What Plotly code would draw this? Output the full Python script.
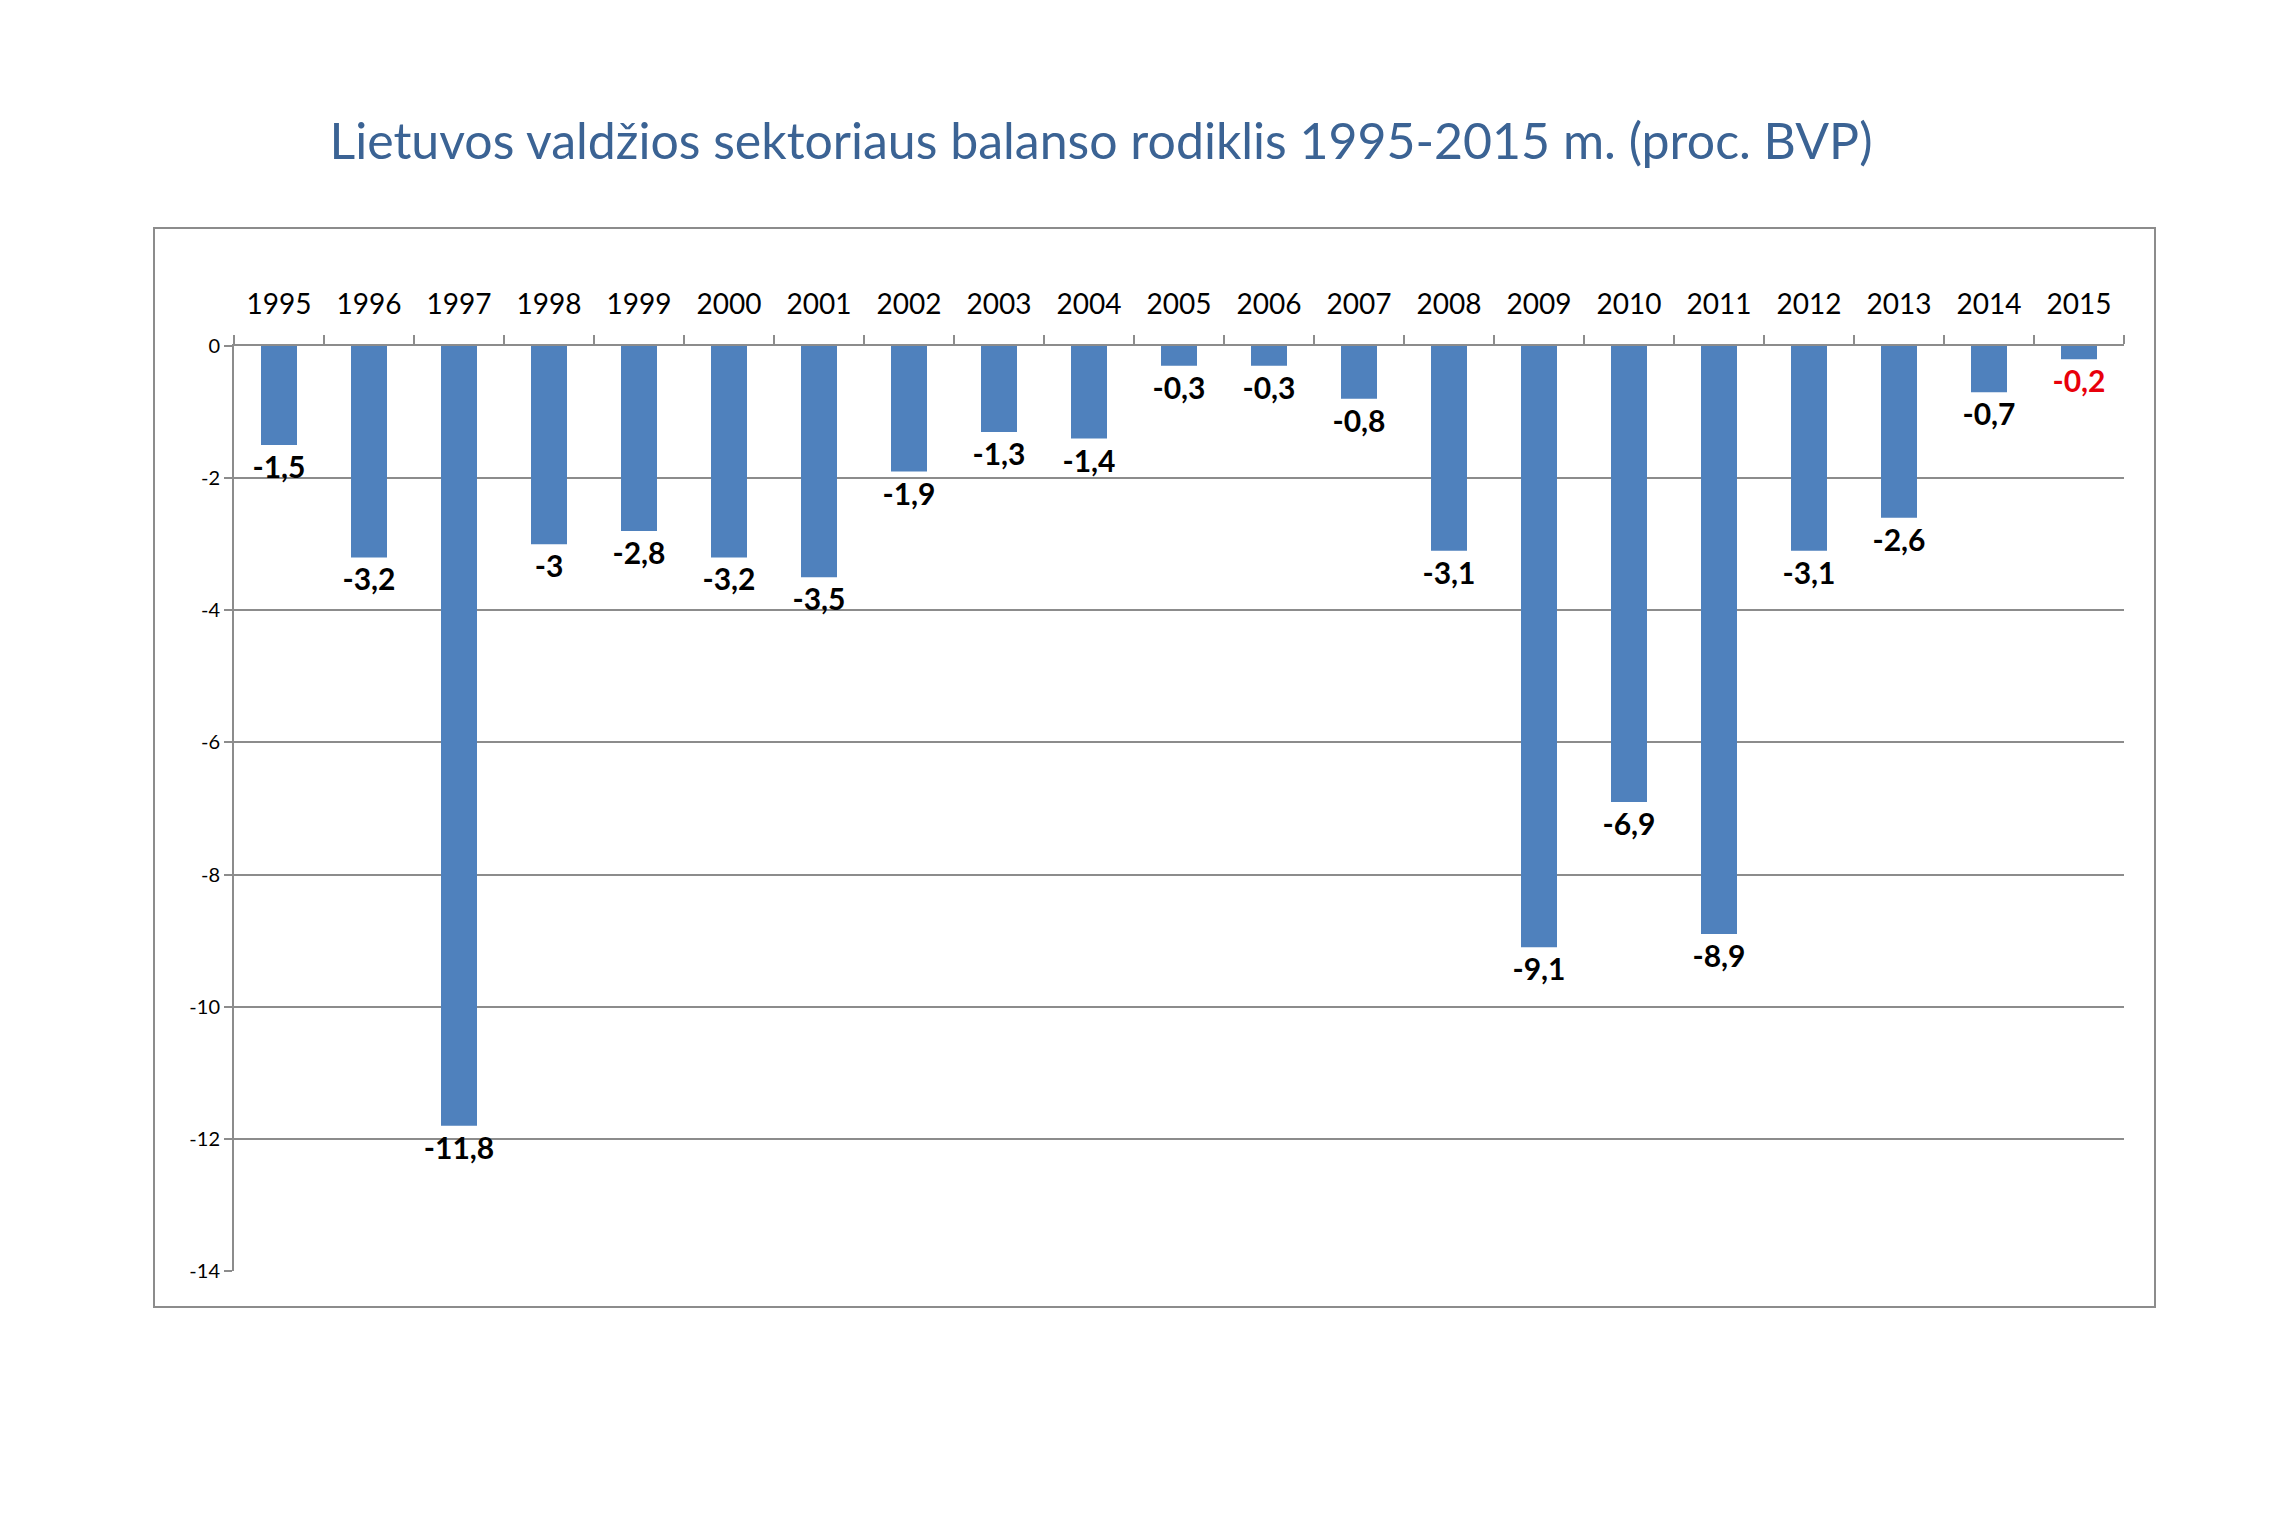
import plotly.graph_objects as go

years = [str(y) for y in range(1995, 2016)]
values = [-1.5, -3.2, -11.8, -3, -2.8, -3.2, -3.5, -1.9, -1.3, -1.4, -0.3, -0.3,
          -0.8, -3.1, -9.1, -6.9, -8.9, -3.1, -2.6, -0.7, -0.2]
labels = [f"{v:g}".replace(".", ",") for v in values]
label_colors = ["#000000"] * (len(values) - 1) + ["#E8000B"]
title = "Lietuvos valdžios sektoriaus balanso rodiklis 1995-2015 m. (proc. BVP)"
yticks = [0, -2, -4, -6, -8, -10, -12, -14]

W, H = 2280, 1520
L, R, T, B = 234, 2124, 346, 1271

fig = go.Figure(go.Bar(
    x=years, y=values, width=0.4,
    marker=dict(color="#4F81BD", line=dict(width=0)),
    text=labels, textposition="outside", constraintext="none",
    textfont=dict(family="Lato", size=30, color=label_colors, weight="bold"),
    cliponaxis=False,
))

def px2paper_x(p):
    return (p - L) / (R - L)

def px2paper_y(p):
    return (B - p) / (B - T)

fig.update_layout(
    width=W, height=H,
    margin=dict(l=L, r=W - R, t=T, b=H - B, pad=0),
    paper_bgcolor="white", plot_bgcolor="white",
    showlegend=False,
    bargap=0.6,
    uniformtext=dict(mode=False),
    title=dict(text=title, x=1101 / W, xanchor="center", y=1 - 141 / H, yanchor="middle",
               font=dict(family="Lato", size=50, color="#3B6394")),
    xaxis=dict(side="top", type="category", showgrid=False,
               showline=True, linecolor="#8C8C8C", linewidth=2,
               ticks="outside", tickson="boundaries", ticklen=9, tickcolor="#8C8C8C", tickwidth=2,
               ticklabelstandoff=19,
               tickfont=dict(family="Lato", size=28, color="#000000")),
    yaxis=dict(range=[-14, 0], tickvals=yticks, ticktext=[str(v) for v in yticks],
               showgrid=True, gridcolor="#8C8C8C", gridwidth=2, zeroline=False,
               showline=True, linecolor="#8C8C8C", linewidth=2,
               ticks="outside", ticklen=8, tickcolor="#8C8C8C", tickwidth=2,
               tickfont=dict(family="Lato", size=20, color="#000000")),
    shapes=[dict(type="rect", xref="paper", yref="paper",
                 x0=px2paper_x(154), x1=px2paper_x(2155),
                 y0=px2paper_y(1307), y1=px2paper_y(228),
                 line=dict(color="#8C8C8C", width=2), fillcolor="rgba(0,0,0,0)", layer="below")],
)

fig.write_html("out.html")
